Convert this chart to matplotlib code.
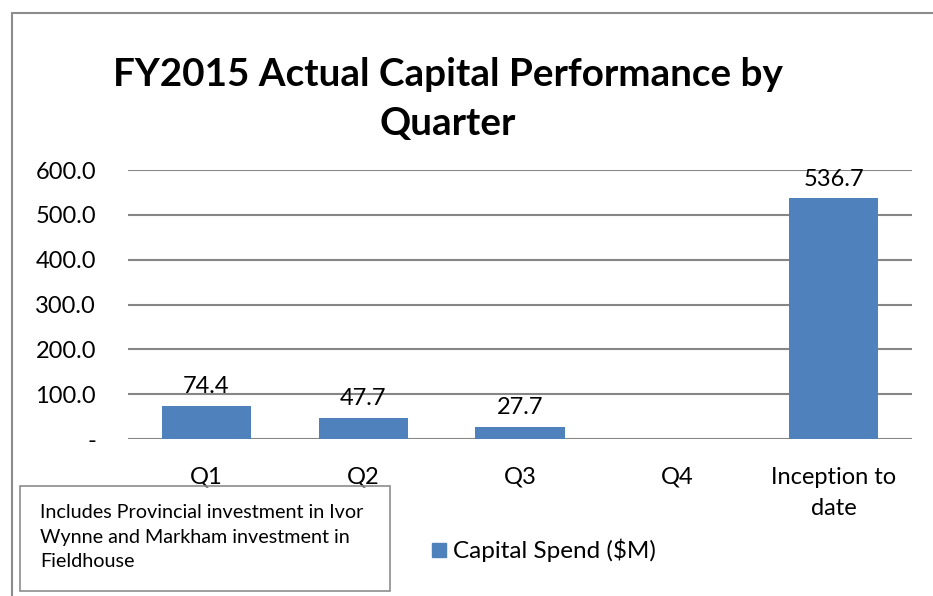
import numpy as np
import matplotlib.pyplot as plt
from matplotlib.patches import Rectangle

categories = ["Q1", "Q2", "Q3", "Q4", "Inception to\ndate"]
capital_spend = [74.4, 47.7, 27.7, np.nan, 536.7]
y_ticks = [0, 100, 200, 300, 400, 500, 600]
note = "Includes Provincial investment in Ivor\nWynne and Markham investment in\nFieldhouse"

plt.rcParams['font.family'] = ['Lato', 'DejaVu Sans']

W, H = 933, 596
fig = plt.figure(figsize=(W / 100, H / 100), dpi=100)

# outer chart border (runs off the right / bottom of the image)
fig.patches.append(Rectangle((12 / W, -0.05), 1.1, 1 - 13 / H + 0.05,
                             transform=fig.transFigure, fill=False,
                             edgecolor="#8c8c8c", linewidth=1.5))

ax = fig.add_axes([128 / W, 1 - 439 / H, (912 - 128) / W, (439 - 170) / H])
x = np.arange(len(categories))
bars = ax.bar(x, capital_spend, width=0.57, color="#4F81BD", zorder=3)

for xi, v in zip(x, capital_spend):
    if np.isnan(v):
        continue
    ax.annotate(f"{v:.1f}", (xi, v), xytext=(0, 6), textcoords="offset points",
                ha="center", va="bottom", fontsize=17, zorder=4)

ax.set_xlim(-0.5, len(categories) - 0.5)
ax.set_ylim(0, 600)
ax.set_yticks(y_ticks)
ax.set_yticklabels(["-" if t == 0 else f"{t:.1f}" for t in y_ticks], fontsize=17)
ax.set_xticks(x)
ax.set_xticklabels(categories, fontsize=17, linespacing=1.6)
ax.tick_params(length=0)
ax.tick_params(axis="y", pad=23)
ax.tick_params(axis="x", pad=20)
ax.yaxis.grid(True, color="#868686", linewidth=1.5, zorder=0)
for s in ax.spines.values():
    s.set_visible(False)

fig.text(448 / W, 1 - 99 / H, "FY2015 Actual Capital Performance by\nQuarter",
         ha="center", va="center", fontsize=27.8, fontweight="bold", linespacing=1.48)

# note box
fig.patches.append(Rectangle((20 / W, 1 - 591 / H), 370 / W, 105 / H,
                             transform=fig.transFigure, fill=False,
                             edgecolor="#8c8c8c", linewidth=1.2))
fig.text(40 / W, 1 - 537 / H, note, ha="left", va="center", fontsize=14.2, linespacing=1.57)

# legend
fig.patches.append(Rectangle((432 / W, 1 - 557 / H), 14 / W, 14 / H,
                             transform=fig.transFigure, color="#4F81BD"))
fig.text(453 / W, 1 - 550 / H, "Capital Spend ($M)", ha="left", va="center", fontsize=17.5)

fig.savefig("out.png", dpi=100)
